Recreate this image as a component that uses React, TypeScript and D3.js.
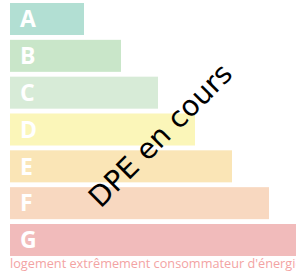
import React from 'react';
import * as d3 from 'd3';

// energy classes and relative bar lengths
const classes = ['A', 'B', 'C', 'D', 'E', 'F', 'G'];
const barLengths = [2, 3, 4, 5, 6, 7, 8];
const classColors = ['#b2dfd3', '#c9e6c9', '#d7ebd7', '#fbf6b9', '#fae5b6', '#f8d8c0', '#f1bbbb'];
const stampText = 'DPE en cours';
const footerText = "logement extrêmement consommateur d'énergie";

const W = 296;
const H = 273;

const App: React.FC = () => {
  const left = 10;

  const y = d3.scaleBand<string>()
    .domain(classes)
    .range([3, 256])
    .paddingInner(0.131);

  const x = d3.scaleLinear()
    .domain([0, 8])
    .range([0, 296]);

  return (
    <div style={{ position: 'absolute', left: 0, top: 0, width: W, height: H, overflow: 'hidden' }}>
      <svg width={W} height={H} style={{ display: 'block' }}>
        {classes.map((c, i) => (
          <g key={c}>
            <rect
              x={left}
              y={y(c)}
              width={x(barLengths[i])}
              height={y.bandwidth()}
              fill={classColors[i]}
            />
            <text
              x={left + 10}
              y={(y(c) as number) + y.bandwidth() / 2}
              dy="0.36em"
              fill="#fff"
              fontFamily="'Open Sans', sans-serif"
              fontWeight={700}
              fontSize={23}
            >
              {c}
            </text>
          </g>
        ))}
        <text
          x={left}
          y={268}
          fill="#f3a3a3"
          fontFamily="'Open Sans', sans-serif"
          fontSize={12.72}
        >
          {footerText}
        </text>
        <text
          transform="translate(160,135) rotate(-45)"
          textAnchor="middle"
          dy="0.36em"
          fill="#000"
          fontFamily="'DejaVu Sans', sans-serif"
          fontSize={28.5}
        >
          {stampText}
        </text>
      </svg>
    </div>
  );
};

export default App;
